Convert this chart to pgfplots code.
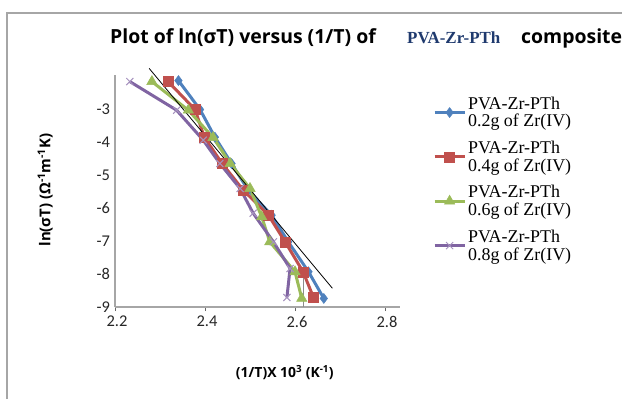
\documentclass[border=0pt]{standalone}
\usepackage{fontspec}
\setmainfont{Liberation Serif}
\newfontfamily\tf{Open Sans}
\newfontfamily\cf{Carlito}
\usepackage{pgfplots}
\pgfplotsset{compat=1.18}
\definecolor{cblue}{HTML}{4F81BD}
\definecolor{cred}{HTML}{C0504D}
\definecolor{cgreen}{HTML}{9BBB59}
\definecolor{cpurple}{HTML}{8064A2}
\definecolor{titleblue}{HTML}{1F3A6E}
\begin{document}
\begin{tikzpicture}[x=1bp,y=1bp]
\path[use as bounding box] (0,0) rectangle (622,399);
\draw[black!35, line width=1.2bp] (7,0) -- (7,386) -- (622,386);
\node[anchor=base west, inner sep=0] at (110,356) {\tf\bfseries\fontsize{19.5}{20}\selectfont Plot of ln(σT) versus (1/T) of};
\node[anchor=base west, inner sep=0, text=titleblue] at (407,356) {\rmfamily\bfseries\fontsize{17}{17}\selectfont PVA-Zr-PTh};
\node[anchor=base west, inner sep=0] at (521,356) {\tf\bfseries\fontsize{19.5}{20}\selectfont composite};
\begin{axis}[
  at={(115bp,92bp)}, anchor=south west,
  scale only axis, width=285bp, height=232bp,
  xmin=2.2, xmax=2.8333, ymin=-9, ymax=-1.95,
  axis lines*=left,
  axis line style={-, draw=black!35, line width=1.1bp},
  xtick={2.2,2.4,2.6,2.8}, xticklabels={2.2,2.4,2.6,2.8},
  ytick={-9,-8,-7,-6,-5,-4,-3}, yticklabels={-9,-8,-7,-6,-5,-4,-3},
  tick label style={font=\cf\fontsize{16.5}{16.5}\selectfont, text=black!85},
  yticklabel style={xshift=-1.5bp},
  xticklabel style={yshift=-1.5bp, xshift=2bp},
  xtick align=outside, major tick length=4bp,
  xtick style={draw=black!60, line width=0.8bp},
  ytick style={draw=none},
  clip=false,
  xlabel={(1/T)X 10\textsuperscript{3} (K\textsuperscript{-1})},
  ylabel={ln(σT) (Ω\textsuperscript{-1}m\textsuperscript{-1}K)},
  xlabel style={at={(axis description cs:0.596,-0.284)}, anchor=center, font=\tf\bfseries\fontsize{14}{14}\selectfont},
  ylabel style={at={(axis description cs:-0.245,0.504)}, anchor=center, rotate=0, font=\tf\bfseries\fontsize{15}{15}\selectfont},
  legend style={at={(1.105,0.925)}, anchor=north west, draw=none, fill=none,
    font=\rmfamily\fontsize{18}{18}\selectfont, nodes={align=left}, row sep=8.5bp},
  legend cell align=left,
  legend image code/.code={\draw[mark repeat=2, mark phase=2] plot coordinates {(0bp,0bp) (15bp,0bp) (30bp,0bp)};},
]
\addplot[cblue, line width=3bp, mark=diamond*, mark size=5bp, mark options={fill=cblue, line width=0.5bp}] coordinates {
(2.341,-2.12) (2.389,-3.00) (2.422,-3.84) (2.459,-4.64) (2.496,-5.45) (2.548,-6.21) (2.585,-7.02) (2.630,-7.93) (2.664,-8.74)};
\addlegendentry{PVA-Zr-PTh\\0.2g of Zr(IV)}
\addplot[cred, line width=3bp, mark=square*, mark size=5bp, mark options={fill=cred, line width=0.5bp}] coordinates {
(2.318,-2.15) (2.378,-3.00) (2.398,-3.83) (2.438,-4.64) (2.485,-5.45) (2.541,-6.21) (2.578,-7.02) (2.618,-7.93) (2.641,-8.71)};
\addlegendentry{PVA-Zr-PTh\\0.4g of Zr(IV)}
\addplot[cgreen, line width=3bp, mark=triangle*, mark size=6bp, mark options={fill=cgreen, line width=0.5bp}] coordinates {
(2.282,-2.15) (2.363,-3.02) (2.418,-3.85) (2.456,-4.64) (2.500,-5.40) (2.526,-6.26) (2.544,-7.02) (2.600,-7.93) (2.615,-8.74)};
\addlegendentry{PVA-Zr-PTh\\0.6g of Zr(IV)}
\addplot[cpurple, line width=3bp, mark=x, mark size=5bp, mark options={line width=1bp, draw=cpurple!70}] coordinates {
(2.233,-2.15) (2.337,-3.02) (2.396,-3.93) (2.433,-4.64) (2.478,-5.40) (2.507,-6.15) (2.552,-7.02) (2.589,-7.83) (2.582,-8.71)};
\addlegendentry{PVA-Zr-PTh\\0.8g of Zr(IV)}
\addplot[black!45, line width=0.8bp, forget plot] coordinates {(2.618,-7.9) (2.618,-9)};
\addplot[black, line width=0.8bp, forget plot] coordinates {(2.276,-1.75) (2.683,-8.43)};
\end{axis}
\end{tikzpicture}
\end{document}
